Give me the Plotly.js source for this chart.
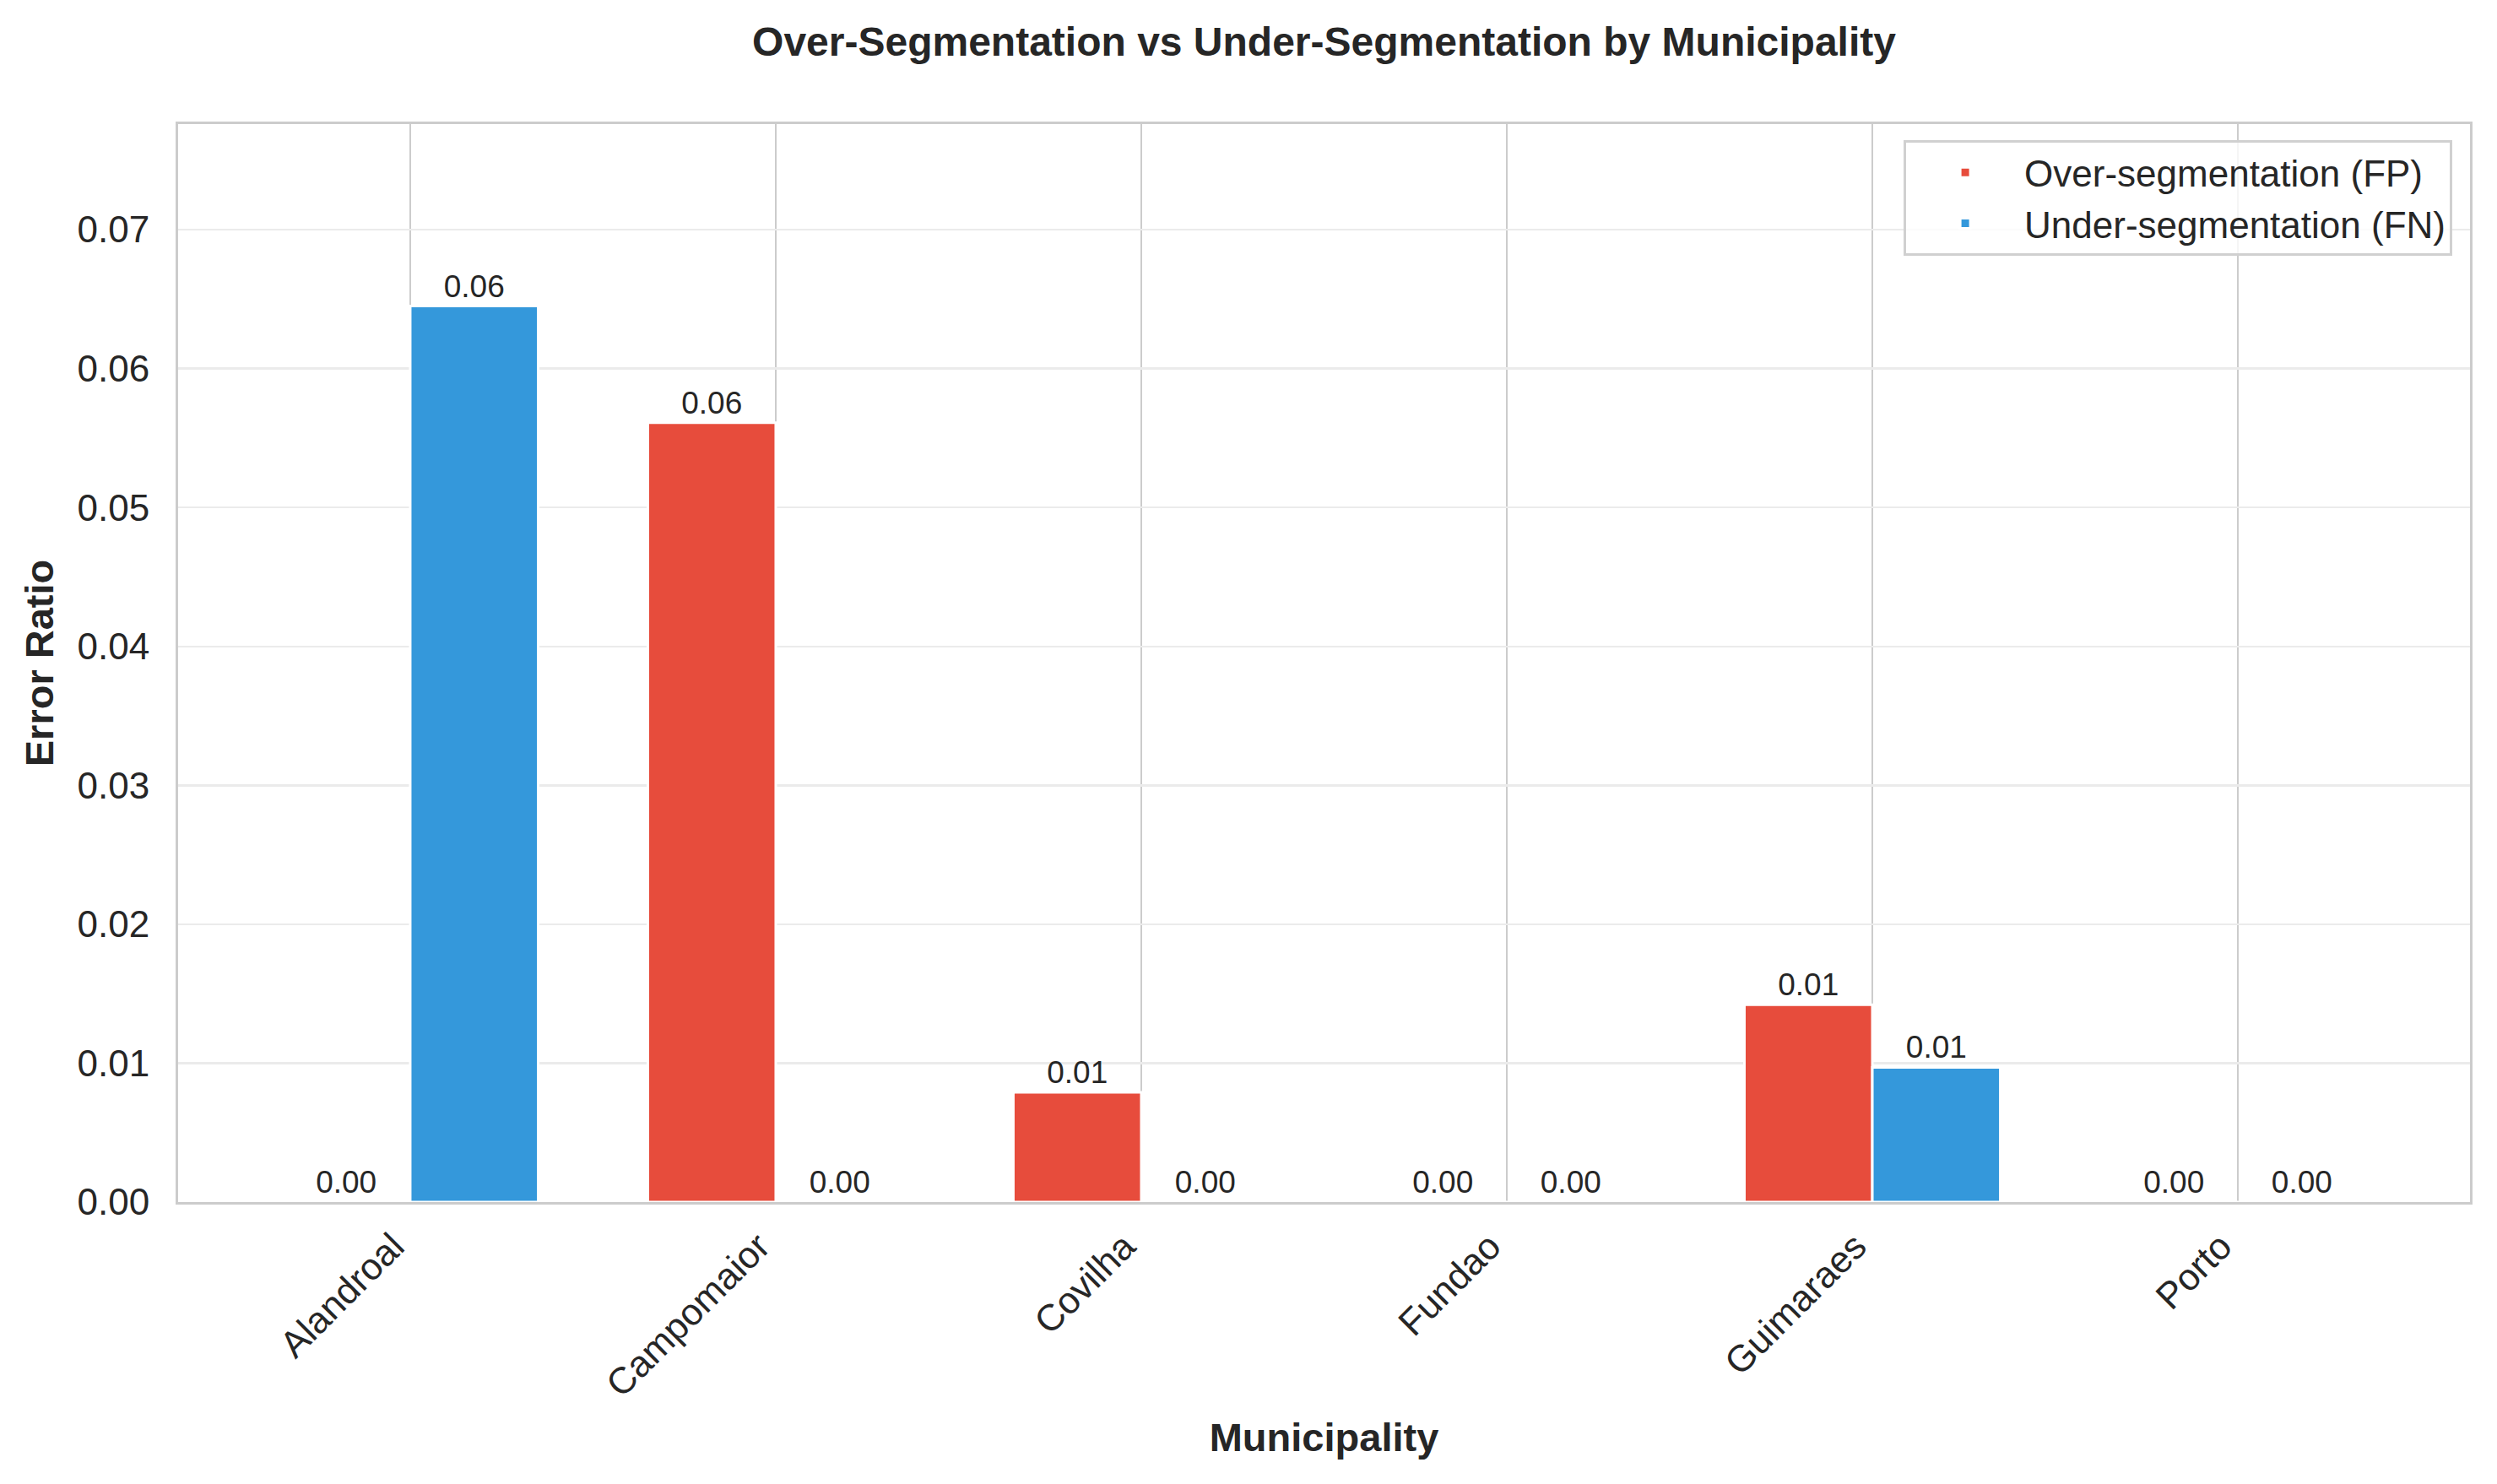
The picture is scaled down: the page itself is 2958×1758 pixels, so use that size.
<!DOCTYPE html>
<html>
<head>
<meta charset="utf-8">
<script src="https://cdn.plot.ly/plotly-3.0.1.min.js"></script>
<style>html,body{margin:0;padding:0;background:#fff;}#chart{width:2958px;height:1758px;}</style>
</head>
<body>
<div id="chart"></div>
<script>
const municipalities = ["Alandroal", "Campomaior", "Covilha", "Fundao", "Guimaraes", "Porto"];
const overSeg = [0.0, 0.0561, 0.0079, 0.0, 0.0142, 0.0];
const underSeg = [0.0645, 0.0, 0.0, 0.0, 0.0097, 0.0];
const seriesNames = ["Over-segmentation (FP)", "Under-segmentation (FN)"];
const yTicks = [0, 0.01, 0.02, 0.03, 0.04, 0.05, 0.06, 0.07];

const FONT = "Liberation Sans, Arial, Helvetica, sans-serif";
const DARK = "#262626";

function barTrace(vals, name, color) {
  return {
    type: "bar",
    x: municipalities,
    y: vals,
    name: name,
    marker: { color: color, line: { color: "#ffffff", width: 3 } },
    text: vals.map(v => v.toFixed(2)),
    textposition: "outside",
    textfont: { family: FONT, size: 37, color: DARK },
    cliponaxis: false,
    constraintext: "none"
  };
}

const data = [
  barTrace(overSeg, seriesNames[0], "#e74c3c"),
  barTrace(underSeg, seriesNames[1], "#3498db")
];

const layout = {
  width: 2958,
  height: 1758,
  paper_bgcolor: "#ffffff",
  plot_bgcolor: "#ffffff",
  margin: { l: 211, r: 32, t: 147, b: 334 },
  barmode: "group",
  bargap: 0.3,
  bargroupgap: 0,
  font: { family: FONT, color: DARK },
  title: {
    text: "<b>Over-Segmentation vs Under-Segmentation by Municipality</b>",
    font: { family: FONT, size: 48, color: DARK },
    x: 0.5, xref: "paper", xanchor: "center",
    y: 1 - 49 / 1758, yref: "container", yanchor: "middle"
  },
  xaxis: {
    type: "category",
    range: [-0.635, 5.635],
    tickangle: -45,
    tickfont: { family: FONT, size: 44, color: DARK },
    ticks: "outside", ticklen: 6, tickcolor: "rgba(0,0,0,0)",
    ticklabelshift: -20,
    showgrid: true, gridcolor: "#cccccc", gridwidth: 2.5,
    showline: true, linecolor: "#cccccc", linewidth: 3, mirror: true,
    zeroline: false,
    automargin: false,
    title: { text: "<b>Municipality</b>", font: { family: FONT, size: 47, color: DARK }, standoff: 24 }
  },
  yaxis: {
    range: [0, 0.0776],
    tickvals: yTicks,
    ticktext: yTicks.map(v => v.toFixed(2)),
    tickfont: { family: FONT, size: 44, color: DARK },
    ticks: "outside", ticklen: 22, tickcolor: "rgba(0,0,0,0)",
    showgrid: true, gridcolor: "#ebebeb", gridwidth: 2.5,
    showline: true, linecolor: "#cccccc", linewidth: 3, mirror: true,
    zeroline: false,
    automargin: false,
    title: { text: "<b>Error Ratio</b>", font: { family: FONT, size: 47, color: DARK }, standoff: 14 }
  },
  legend: {
    x: 0.9923, xanchor: "right",
    y: 0.985, yanchor: "top",
    bgcolor: "rgba(255,255,255,0.8)",
    bordercolor: "#d0d0d0", borderwidth: 3,
    font: { family: FONT, size: 44, color: DARK },
    itemwidth: 130
  },
  showlegend: true
};

Plotly.newPlot("chart", data, layout, { staticPlot: true, displayModeBar: false });
</script>
</body>
</html>
